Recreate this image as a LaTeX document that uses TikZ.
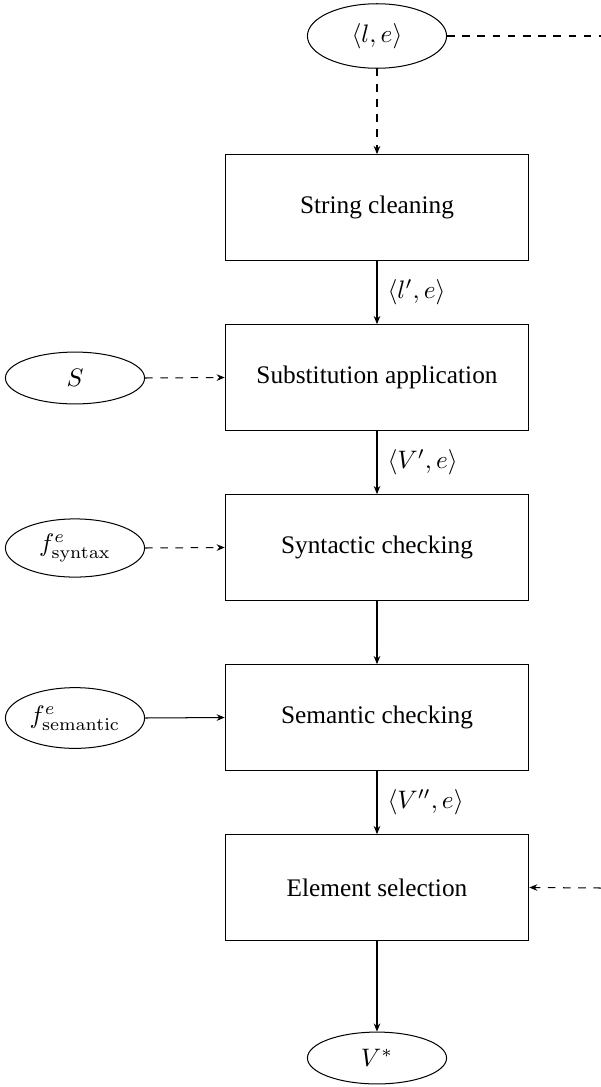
\documentclass[tikz,border=0pt]{standalone}
\usepackage[no-math]{fontspec}
\setmainfont{Liberation Serif}
\usetikzlibrary{shapes.geometric,arrows.meta}
\begin{document}
\begin{tikzpicture}[x=0.3953pt,y=-0.3953pt,
  stage/.style={draw,rectangle,minimum width=120pt,minimum height=41.8pt,inner sep=0pt,font=\fontsize{10}{12}\selectfont},
  data/.style={draw,ellipse,minimum width=55pt,minimum height=20.5pt,inner sep=1pt},
  flow/.style={-{Stealth[length=3.2pt,width=2.6pt]},line width=0.4pt},
  lbl/.style={anchor=west,inner sep=4pt}]
\useasboundingbox (0,0) rectangle (601,1087);
\node[data,minimum height=25.5pt] (le) at (377,36) {$\langle l,e\rangle$};
\node[stage] (sc) at (377,207.5) {String cleaning};
\node[stage] (sa) at (377,377.5) {Substitution application};
\node[stage] (syn) at (377,547.5) {Syntactic checking};
\node[stage] (sem) at (377,717.5) {Semantic checking};
\node[stage] (es) at (377,887.5) {Element selection};
\node[data] (S) at (75,378) {$S$};
\node[data,minimum height=23pt] (fsyn) at (75,548) {$f^{e}_{\mathrm{syntax}}$};
\node[data,minimum height=24pt] (fsem) at (75,718) {$f^{e}_{\mathrm{semantic}}$};
\node[data] (vs) at (377,1058) {$V^{*}$};
\coordinate (r1) at (601,36);
\coordinate (r2) at (601,888);
\draw[dashed] (le.east) -- (r1);
\draw[flow,dashed] (le.south) -- (sc.north);
\draw[flow] (sc.south) -- node[lbl] {$\langle l',e\rangle$} (sa.north);
\draw[flow] (sa.south) -- node[lbl] {$\langle V',e\rangle$} (syn.north);
\draw[flow] (syn.south) -- (sem.north);
\draw[flow] (sem.south) -- node[lbl] {$\langle V'',e\rangle$} (es.north);
\draw[flow] (es.south) -- (vs.north);
\draw[flow,dashed] (S.east) -- (sa.west);
\draw[flow,dashed] (fsyn.east) -- (syn.west);
\draw[flow] (fsem.east) -- (sem.west);
\draw[flow,dashed] (r2) -- (es.east);
\end{tikzpicture}
\end{document}
